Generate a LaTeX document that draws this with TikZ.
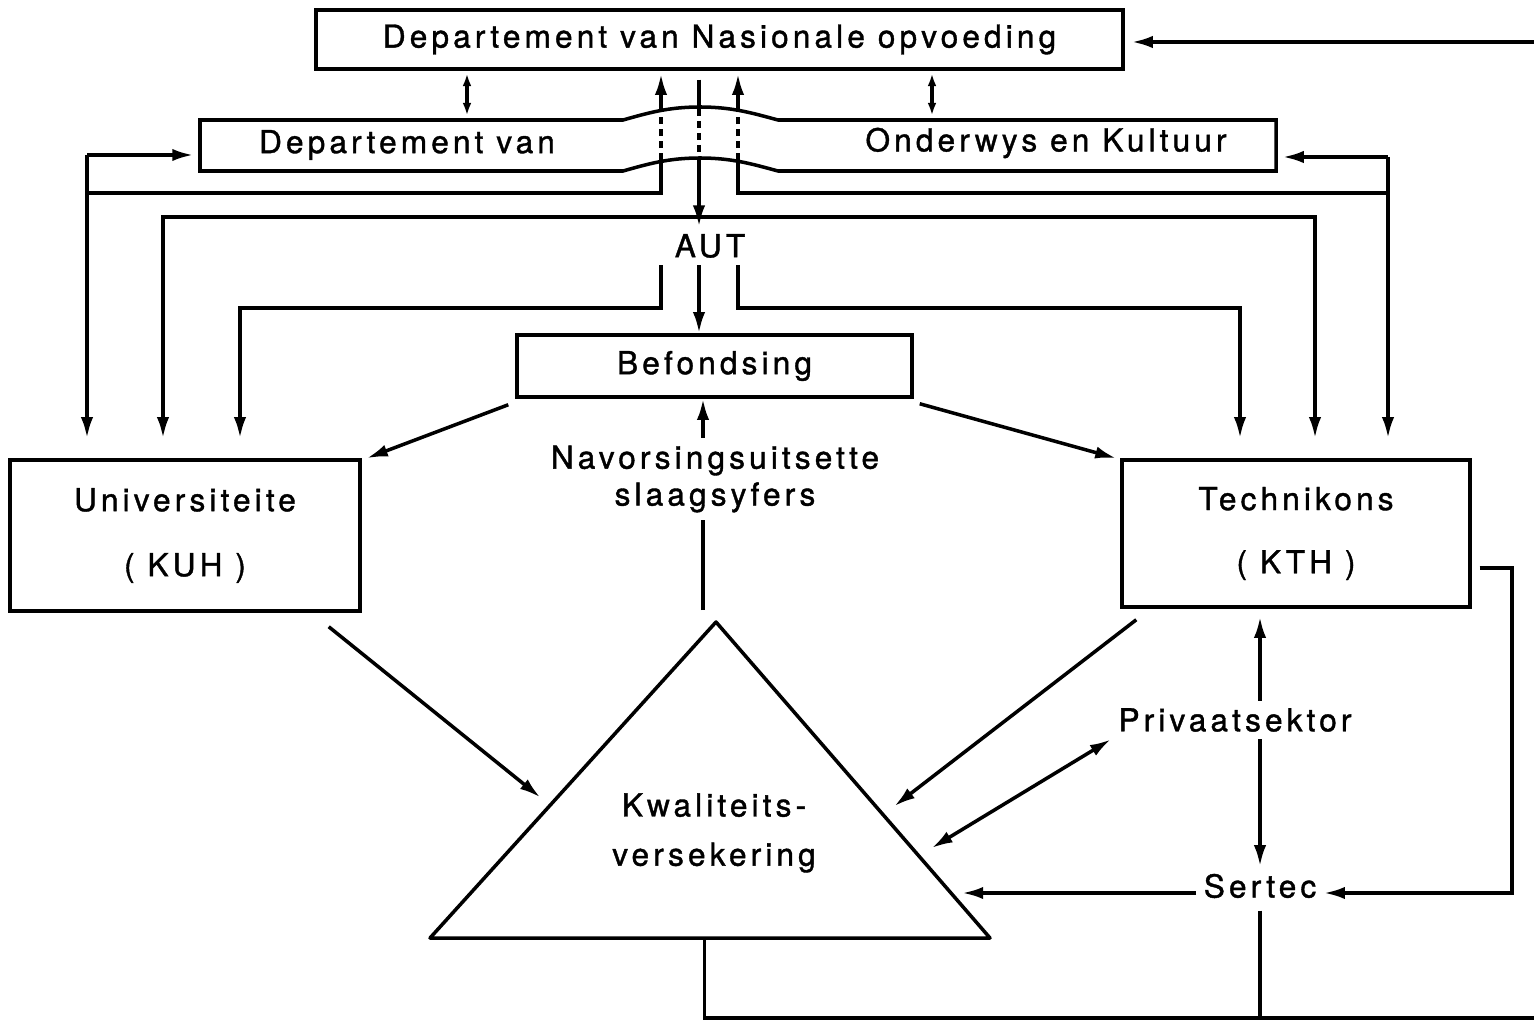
\documentclass[tikz,border=0pt]{standalone}
\usepackage{fontspec}
\setmainfont{TeX Gyre Heros}[LetterSpace=13,FakeBold=1.2]
\usepackage{tikz}
\usetikzlibrary{positioning,calc,arrows.meta}

\tikzset{
  box/.style={draw,rectangle,inner sep=2pt},
  hidden/.style={dash pattern=on 4pt off 2.8pt},
  short/.style={>={Latex[length=7pt,width=5pt]}},
  every node/.style={font=\fontsize{18}{22}\selectfont},
  >={Latex[length=12pt,width=7pt]},
}

\begin{document}
\begin{tikzpicture}[x=0.02cm,y=-0.02cm,line width=2pt]
\useasboundingbox (0,0) rectangle (1534,1020);
% boxes
\node[box,minimum width=16.14cm,minimum height=1.18cm] (dno) at (719.5,39.5) {Departement van Nasionale opvoeding};
\node[minimum width=21.52cm,minimum height=1.02cm,inner sep=0pt] (dok) at (738,145.5) {};
\draw (200,120) -- (623,120) .. controls (648,113) and (668,107) .. (700,107) .. controls (732,107) and (752,113) .. (778,120) -- (1276,120) -- (1276,171) -- (778,171) .. controls (752,164) and (732,158) .. (700,158) .. controls (668,158) and (648,164) .. (623,171) -- (200,171) -- cycle;
\node (dokl) at (407,145) {Departement van};
\node (dokr) at (1046,143) {Onderwys en Kultuur};
\node (aut) at (710,246) {AUT};
\node[box,minimum width=7.9cm,minimum height=1.24cm] (bef) at (714.5,366) {Befondsing};
\node[box,minimum width=7cm,minimum height=3.02cm,align=center] (uni) at (185,535.5) {Universiteite\\[15pt]( KUH )};
\node[box,minimum width=6.96cm,minimum height=2.94cm,align=center] (tech) at (1296,533.5) {Technikons\\[14pt]( KTH )};
\node[align=center] (nav) at (715,479) {Navorsingsuitsette\\[-1pt]slaagsyfers};
\node (pv) at (1235,720) {Privaatsektor};
\node (sr) at (1260,886) {Sertec};
% triangle
\coordinate (kt) at (716,622);
\coordinate (kl) at (430,938);
\coordinate (kr) at (990,938);
\draw[line join=round] (kt) -- (kl) -- (kr) -- cycle;
\node[align=center] (kv) at (714,833) {Kwaliteits-\\[6pt]versekering};
% lanes
\coordinate (l1) at (87,155);
\coordinate (l2) at (163,217);
\coordinate (l3) at (240,308);
\coordinate (r1) at (1388,157);
\coordinate (r2) at (1315,217);
\coordinate (r3) at (1240,308);
\coordinate (m1) at (661,193);
\coordinate (m2) at (738,193);
\coordinate (mc) at (699,0);
\coordinate (bt) at (0,109);
\coordinate (bb) at (0,160);
\coordinate (d1) at (467,0);
\coordinate (d2) at (932,0);
\coordinate (nx) at (703,0);
\coordinate (te) at (1534,42);
\coordinate (be) at (1534,1018);
% the arrows at the top
\draw[->,shorten >=0.14cm] (te) -- (dno.east |- te);
\draw[short,<->,shorten <=0.06cm,shorten >=0.06cm] (dno.south -| d1) -- (d1 |- dok.north);
\draw[short,<->,shorten <=0.06cm,shorten >=0.06cm] (dno.south -| d2) -- (d2 |- dok.north);
\draw[->,shorten >=0.1cm] (l1) -- (dok.west |- l1);
\draw[->,shorten >=0.1cm] (r1) -- (dok.east |- r1);
\draw[->,shorten >=0.4cm] (l1) -- (l1 |- uni.north);
\draw[->,shorten >=0.4cm] (r1) -- (r1 |- tech.north);
\draw (l1 |- m1) -- (m1) -- (m1 |- bb);
\draw[hidden] (m1 |- bb) -- (m1 |- bt);
\draw[->,shorten >=0.06cm] (m1 |- bt) -- (m1 |- dno.south);
\draw (r1 |- m2) -- (m2) -- (m2 |- bb);
\draw[hidden] (m2 |- bb) -- (m2 |- bt);
\draw[->,shorten >=0.06cm] (m2 |- bt) -- (m2 |- dno.south);
\draw[shorten <=0.18cm] (dno.south -| mc) -- (mc |- bt);
\draw[hidden] (mc |- bt) -- (mc |- bb);
\draw[->] (mc |- bb) -- (aut.north -| mc);
\draw[<->,shorten <=0.4cm,shorten >=0.4cm] (l2 |- uni.north) -- (l2) -- (r2) -- (r2 |- tech.north);
% AUT down
\draw[->,shorten >=0.4cm] (aut.south -| m1) -- (m1 |- l3) -- (l3) -- (l3 |- uni.north);
\draw[->,shorten >=0.4cm] (aut.south -| m2) -- (m2 |- r3) -- (r3) -- (r3 |- tech.north);
\draw[->] (aut.south -| mc) -- (bef.north -| mc);
% Befondsing
\draw[->] ([xshift=-0.14cm,yshift=-0.12cm]bef.south west) -- ([xshift=0.1cm]uni.north east);
\draw[->] ([xshift=0.12cm,yshift=-0.1cm]bef.south east) -- ([xshift=-0.08cm]tech.north west);
\draw[->] (nav.north -| nx) -- (bef.south -| nx);
\draw[shorten <=0.24cm] (nx |- kt) -- (nav.south -| nx);
% to the triangle
\draw[->,shorten >=0.25cm] ([xshift=-0.66cm,yshift=-0.28cm]uni.south east) -- ($(kt)!0.58!(kl)$);
\draw[->,shorten >=0.28cm] ([xshift=0.32cm,yshift=-0.22cm]tech.south west) -- ($(kt)!0.61!(kr)$);
\draw[<->,shorten >=0.3cm] (pv.south west) -- ($(kt)!0.74!(kr)$);
\coordinate (ks) at ($(kt)!0.858!(kr)$);
\draw[->,shorten >=0.22cm] ([yshift=-0.14cm]sr.west) -- ([yshift=-0.14cm]sr.west -| ks);
% Technikons, Privaatsektor, Sertec
\draw[->,shorten >=0.16cm] (pv.north -| sr) -- (tech.south -| sr);
\draw[->] (pv.south -| sr) -- (sr.north);
\coordinate (tr) at ($(tech.south east)!0.27!(tech.north east)$);
\draw[->,shorten <=0.16cm] (tr) -- ++(40,0) |- ([yshift=-0.14cm]sr.east);
\draw ($(kl)!0.49!(kr)$) |- (be);
\draw[shorten <=0.1cm] (sr.south) -- (sr.south |- be);
\end{tikzpicture}
\end{document}
